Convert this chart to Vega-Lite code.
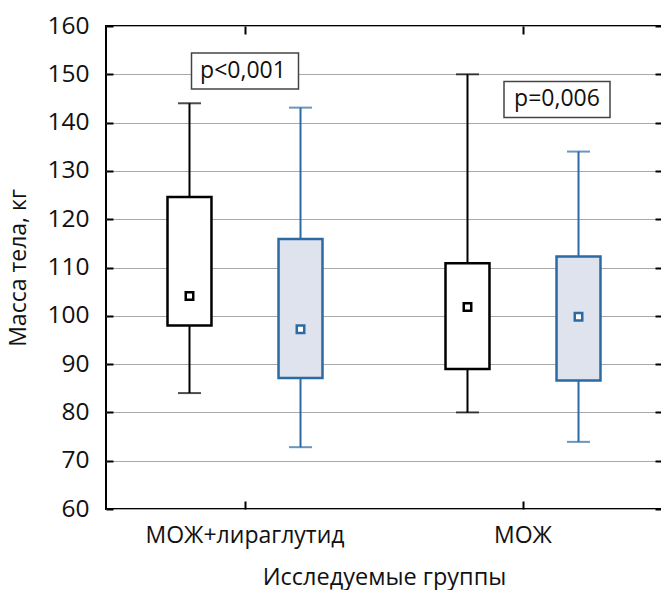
{
  "$schema": "https://vega.github.io/schema/vega-lite/v6.json",
  "autosize": {"type": "none"},
  "padding": {"left": 106, "top": 26, "right": 0, "bottom": 81},
  "width": 556,
  "height": 483,
  "background": "white",
  "config": {
    "view": {"stroke": "black", "strokeWidth": 2},
    "font": "Open Sans",
    "axis": {"labelFont": "Open Sans", "titleFont": "Open Sans", "labelColor": "#111", "titleColor": "#111", "titleFontWeight": "normal", "labelLimit": 400}
  },
  "datasets": {
    "boxes": [
      {"group": "МОЖ+лираглутид", "series": "A", "min": 84, "q1": 98, "median": 104.1, "q3": 124.6, "max": 144},
      {"group": "МОЖ+лираглутид", "series": "B", "min": 72.8, "q1": 87.1, "median": 97.2, "q3": 115.9, "max": 143.1},
      {"group": "МОЖ", "series": "A", "min": 80, "q1": 89, "median": 101.8, "q3": 110.9, "max": 150},
      {"group": "МОЖ", "series": "B", "min": 73.9, "q1": 86.6, "median": 99.8, "q3": 112.3, "max": 134}
    ]
  },
  "data": {"name": "boxes"},
  "resolve": {"axis": {"x": "independent", "y": "independent"}},
  "layer": [
    {
      "mark": {"type": "rule", "strokeWidth": 2},
      "encoding": {
        "x": {"field": "group", "type": "nominal", "sort": ["МОЖ+лираглутид", "МОЖ"],
              "scale": {"domain": ["МОЖ+лираглутид", "МОЖ"], "paddingInner": 0, "paddingOuter": 0},
              "axis": {"orient": "bottom", "title": "Исследуемые группы", "labelAngle": 0, "labelFontSize": 23, "titleFontSize": 23.5,
                       "domain": false, "tickSize": -8, "tickColor": "black", "tickWidth": 2, "labelPadding": 23, "titlePadding": 18, "grid": false}},
        "xOffset": {"field": "series", "type": "nominal", "sort": ["A", "B"], "scale": {"paddingInner": 0.604, "paddingOuter": 0.554}},
        "y": {"field": "min", "type": "quantitative", "scale": {"domain": [60, 160], "nice": false, "zero": false},
              "axis": {"orient": "left", "title": "Масса тела, кг", "values": [60, 70, 80, 90, 100, 110, 120, 130, 140, 150, 160],
                       "labelFontSize": 24.5, "titleFontSize": 23, "domain": false, "tickSize": -7, "tickColor": "black", "tickWidth": 2,
                       "labelPadding": 24, "titlePadding": 16, "grid": true, "gridColor": "#a9a9a9", "gridWidth": 1.2}},
        "y2": {"field": "max"},
        "stroke": {"field": "series", "type": "nominal", "scale": {"domain": ["A", "B"], "range": ["#000000", "#2b6aa3"]}, "legend": null}
      }
    },
    {
      "mark": {"type": "tick", "size": 23, "thickness": 2},
      "encoding": {
        "x": {"field": "group", "type": "nominal", "sort": ["МОЖ+лираглутид", "МОЖ"],
              "axis": {"orient": "top", "title": null, "labels": false, "domain": false, "tickSize": -8, "tickColor": "black", "tickWidth": 2, "grid": false}},
        "xOffset": {"field": "series", "type": "nominal", "sort": ["A", "B"]},
        "y": {"field": "max", "type": "quantitative",
              "axis": {"orient": "right", "title": null, "labels": false, "domain": false, "values": [60, 70, 80, 90, 100, 110, 120, 130, 140, 150, 160],
                       "tickSize": -7, "tickColor": "black", "tickWidth": 2, "grid": false}},
        "color": {"field": "series", "type": "nominal", "scale": {"domain": ["A", "B"], "range": ["#000000", "#2b6aa3"]}, "legend": null}
      }
    },
    {
      "mark": {"type": "tick", "size": 23, "thickness": 2},
      "encoding": {
        "x": {"field": "group", "type": "nominal", "sort": ["МОЖ+лираглутид", "МОЖ"], "axis": null},
        "xOffset": {"field": "series", "type": "nominal", "sort": ["A", "B"]},
        "y": {"field": "min", "type": "quantitative", "axis": null},
        "color": {"field": "series", "type": "nominal", "scale": {"domain": ["A", "B"], "range": ["#000000", "#2b6aa3"]}, "legend": null}
      }
    },
    {
      "mark": {"type": "bar", "strokeWidth": 2.5},
      "encoding": {
        "x": {"field": "group", "type": "nominal", "sort": ["МОЖ+лираглутид", "МОЖ"], "axis": null},
        "xOffset": {"field": "series", "type": "nominal", "sort": ["A", "B"]},
        "y": {"field": "q1", "type": "quantitative", "axis": null},
        "y2": {"field": "q3"},
        "fill": {"field": "series", "type": "nominal", "scale": {"domain": ["A", "B"], "range": ["#ffffff", "#dfe3ee"]}, "legend": null},
        "stroke": {"field": "series", "type": "nominal", "scale": {"domain": ["A", "B"], "range": ["#000000", "#2b6aa3"]}, "legend": null}
      }
    },
    {
      "mark": {"type": "point", "shape": "square", "size": 56, "filled": false, "fill": "white", "fillOpacity": 1, "strokeWidth": 2.5, "opacity": 1},
      "encoding": {
        "x": {"field": "group", "type": "nominal", "sort": ["МОЖ+лираглутид", "МОЖ"], "axis": null},
        "xOffset": {"field": "series", "type": "nominal", "sort": ["A", "B"]},
        "y": {"field": "median", "type": "quantitative", "axis": null},
        "stroke": {"field": "series", "type": "nominal", "scale": {"domain": ["A", "B"], "range": ["#000000", "#2b6aa3"]}, "legend": null}
      }
    },
    {
      "data": {"values": [{"group": "МОЖ+лираглутид", "y": 150.7, "label": "p<0,001"}]},
      "layer": [
        {"mark": {"type": "point", "shape": "M-1,-0.336L1,-0.336L1,0.336L-1,0.336Z", "size": 11449, "filled": false, "fill": "white", "fillOpacity": 1, "stroke": "#444444", "strokeWidth": 1.5, "opacity": 1}},
        {"mark": {"type": "text", "fontSize": 23, "font": "Open Sans", "color": "#111", "baseline": "middle", "align": "center", "dx": -2}, "encoding": {"text": {"field": "label"}}}
      ],
      "encoding": {
        "x": {"field": "group", "type": "nominal", "sort": ["МОЖ+лираглутид", "МОЖ"], "axis": null},
        "y": {"field": "y", "type": "quantitative", "axis": null}
      }
    },
    {
      "data": {"values": [{"group": "МОЖ", "y": 144.8, "label": "p=0,006"}]},
      "layer": [
        {"mark": {"type": "point", "shape": "M-0.3585,-0.34L1.6415,-0.34L1.6415,0.34L-0.3585,0.34Z", "size": 11236, "filled": false, "fill": "white", "fillOpacity": 1, "stroke": "#444444", "strokeWidth": 1.5, "opacity": 1}},
        {"mark": {"type": "text", "fontSize": 23, "font": "Open Sans", "color": "#111", "baseline": "middle", "align": "center", "dx": 34}, "encoding": {"text": {"field": "label"}}}
      ],
      "encoding": {
        "x": {"field": "group", "type": "nominal", "sort": ["МОЖ+лираглутид", "МОЖ"], "axis": null},
        "y": {"field": "y", "type": "quantitative", "axis": null}
      }
    }
  ]
}
